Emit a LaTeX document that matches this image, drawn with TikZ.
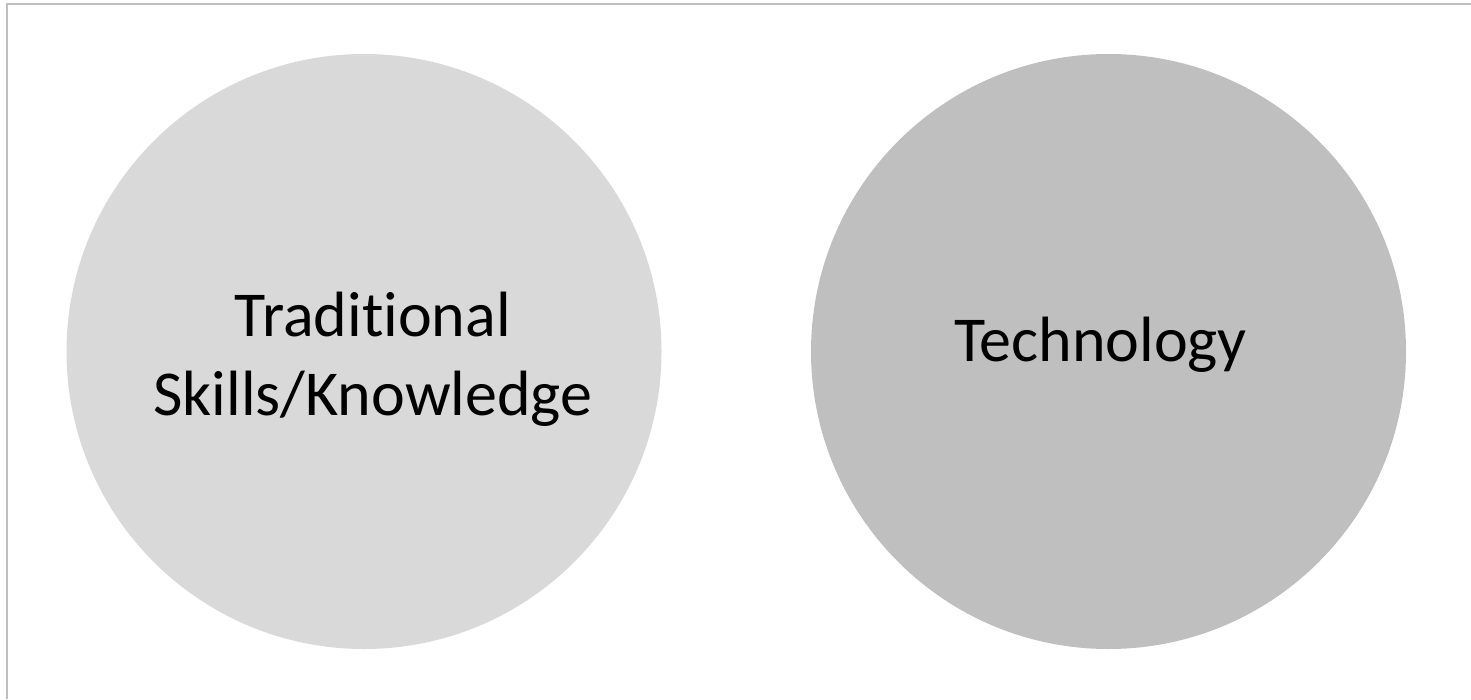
\documentclass[tikz,border=0pt]{standalone}
\usepackage{fontspec}
\setmainfont{Carlito}[Ligatures=NoCommon]
\definecolor{lightcircle}{HTML}{D9D9D9}
\definecolor{darkcircle}{HTML}{BFBFBF}
\definecolor{frameline}{HTML}{BFBFBF}
\begin{document}
\begin{tikzpicture}[x=1pt, y=-1pt,
  bigcircle/.style={circle, inner sep=0pt, minimum size=595pt, draw=none},
  circletext/.style={inner sep=0pt, align=center, font=\fontsize{64}{79}\selectfont}]

% Fix the page size to the reference
\useasboundingbox (0,0) rectangle (1471,699);

% Outer frame (only top and left edges are visible)
\draw[frameline, line width=1.5pt] (7,699) -- (7,4) -- (1471,4);

% The two circles
\node[bigcircle, fill=lightcircle] (trad) at (364,351.5) {};
\node[bigcircle, fill=darkcircle] (tech) at (1108.5,351.5) {};

% Their labels
\node[circletext, xshift=9pt, yshift=-7.8pt] (tradtext) at (trad) {Traditional\\Skills/Knowledge};
\node[circletext, xshift=-8pt, yshift=6.5pt] (techtext) at (tech) {Technology};

\end{tikzpicture}
\end{document}
